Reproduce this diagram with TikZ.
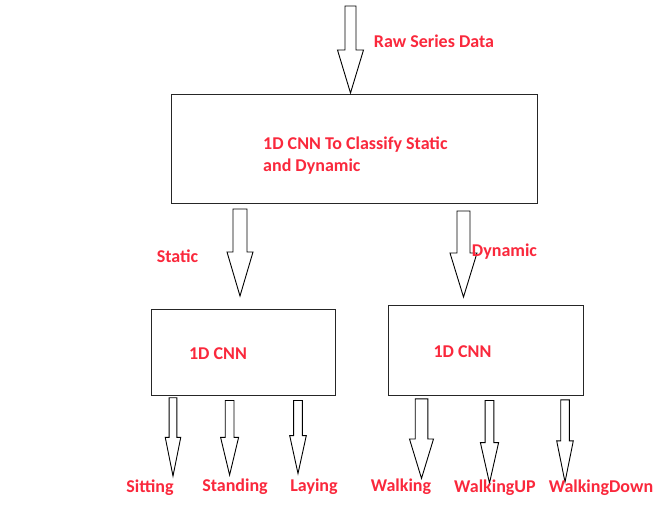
\documentclass[tikz,border=0pt]{standalone}
\usepackage{fontspec}
\setmainfont{Carlito}
\definecolor{lbl}{RGB}{250,40,60}
\tikzset{
  lbltext/.style={text=lbl,font=\bfseries\fontsize{18}{22}\selectfont,inner sep=0pt},
  boxstyle/.style={draw=black!85,line width=1pt,inner sep=0pt},
  arrowline/.style={draw=black,line width=0.9pt,fill=white,line join=miter}
}
\newcommand{\blockarr}[6]{%
  \draw[arrowline] (#1-#5,#2) -- (#1+#5,#2) -- (#1+#5,#3) -- (#1+#6,#3) -- (#1,#4) -- (#1-#6,#3) -- (#1-#5,#3) -- cycle;}
\begin{document}
\begin{tikzpicture}[x=1pt,y=-1pt]
\useasboundingbox[fill=white] (0,0) rectangle (670,520);
% boxes
\node[boxstyle,minimum width=366pt,minimum height=109pt] (main) at (354,148.5) {};
\node[boxstyle,minimum width=184pt,minimum height=86pt] (left) at (243,352) {};
\node[boxstyle,minimum width=195pt,minimum height=90pt] (right) at (485.5,350) {};
% arrows
\blockarr{350.5}{6}{50}{93}{5.5}{13}
\blockarr{240}{209}{252}{296}{7}{13}
\blockarr{463.5}{211}{253}{297}{6.5}{13.5}
\blockarr{173}{397.7}{437.4}{476}{3.85}{7.75}
\blockarr{229.6}{400.5}{437.4}{475}{4.4}{9}
\blockarr{298}{400.5}{435.6}{473.5}{4.4}{8.3}
\blockarr{421.5}{398.8}{439}{478.4}{6.3}{12}
\blockarr{489.5}{400.5}{442.6}{483}{4.4}{9.1}
\blockarr{565}{399.8}{440.9}{482}{4.3}{8.3}
% labels
\node[lbltext] (raw) at (434,41) {Raw Series Data};
\node[lbltext,anchor=west,align=left] (cls) at (263,156) {1D CNN To Classify Static\\and Dynamic};
\node[lbltext] (static) at (177.5,256) {Static};
\node[lbltext] (dynamic) at (504.5,252) {Dynamic};
\node[lbltext] (cnnl) at (218,354) {1D CNN};
\node[lbltext] (cnnr) at (462.5,352) {1D CNN};
\node[lbltext] (sit) at (150,488) {Sitting};
\node[lbltext] (stand) at (235,487) {Standing};
\node[lbltext] (lay) at (314,487) {Laying};
\node[lbltext] (walk) at (401,487) {Walking};
\node[lbltext] (wup) at (495,488) {WalkingUP};
\node[lbltext] (wdown) at (601,488) {WalkingDown};
\end{tikzpicture}
\end{document}
